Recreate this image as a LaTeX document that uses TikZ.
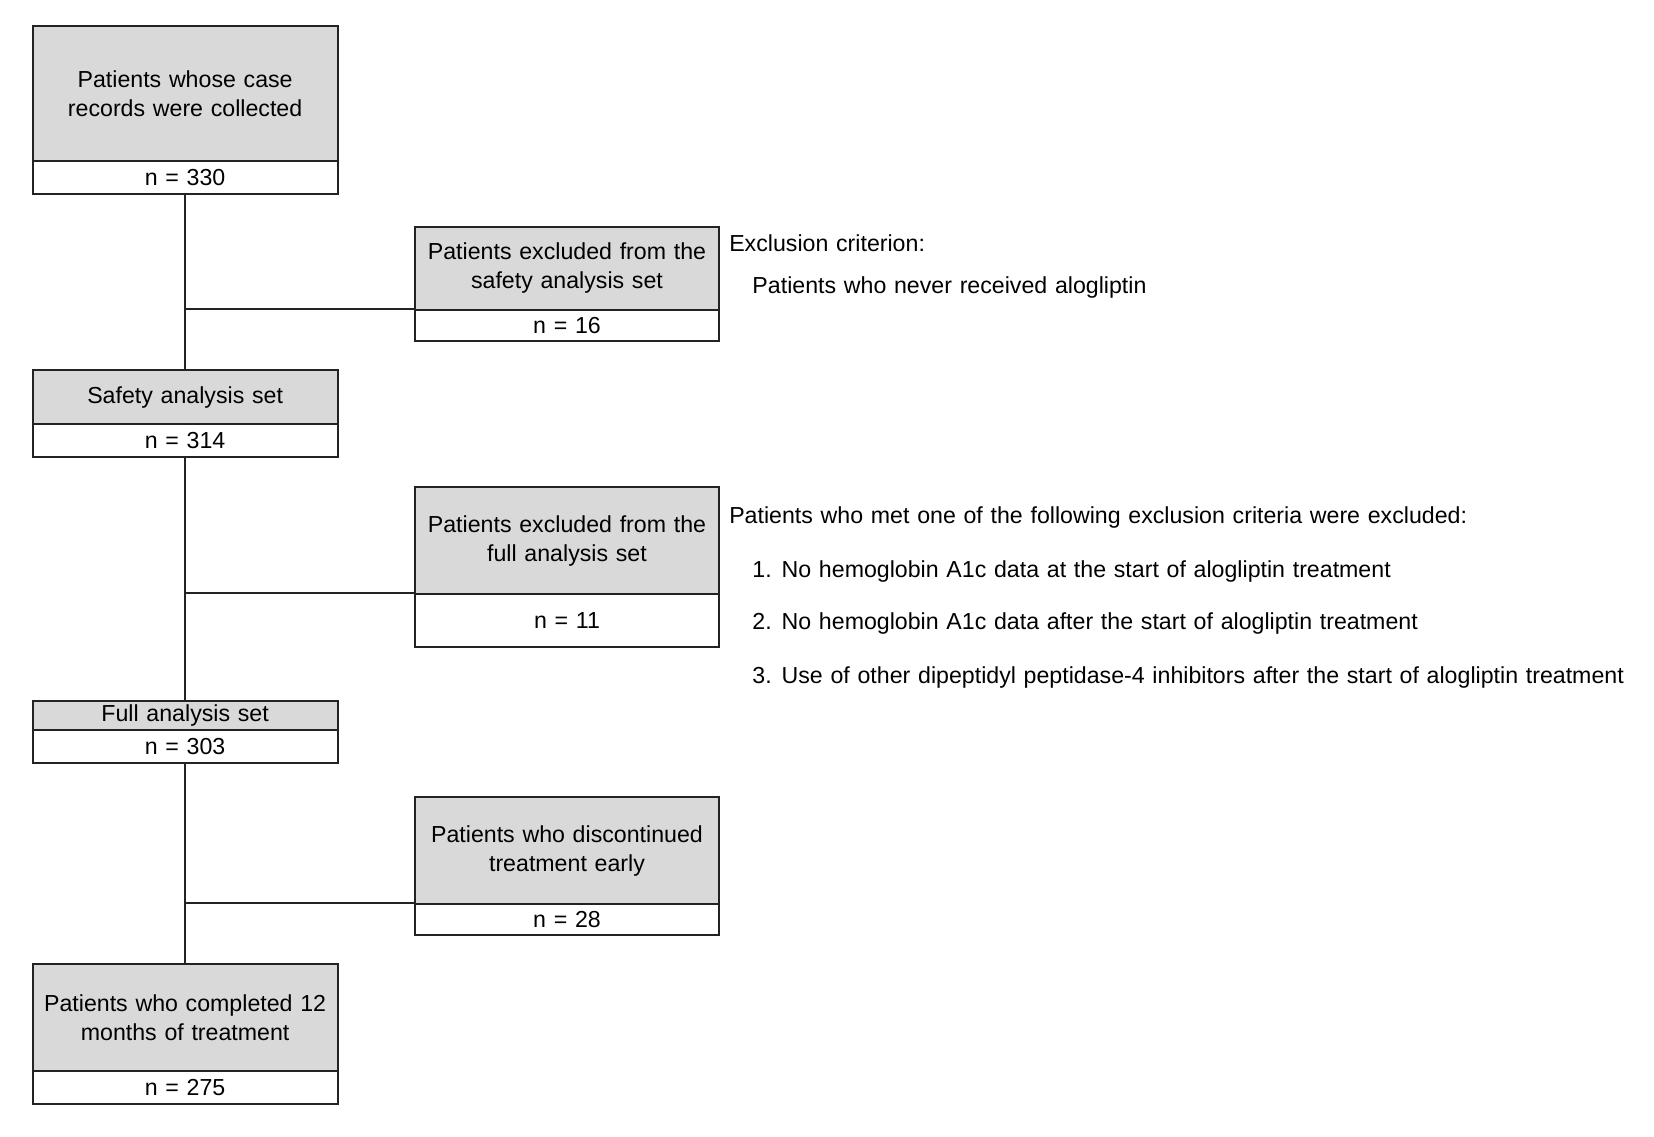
\documentclass[tikz,border=0pt]{standalone}
\usepackage{fontspec}
\setmainfont{Liberation Sans}[WordSpace=1.2]
\definecolor{boxgrey}{RGB}{217,217,217}
\definecolor{linegrey}{RGB}{35,35,35}
\tikzset{
	base/.style={draw=linegrey, line width=1.1pt, minimum width=5.78cm, inner sep=0pt, align=center, font=\fontsize{12.5}{15.6}\selectfont},
	titlebox/.style={base, fill=boxgrey},
	countbox/.style={base, fill=white},
	note/.style={anchor=base west, inner sep=0pt, font=\fontsize{12.5}{15.6}\selectfont},
	link/.style={draw=linegrey, line width=1.1pt}
}
\begin{document}
\begin{tikzpicture}[x=0.02cm,y=-0.02cm]
	\useasboundingbox (0,0) rectangle (1568,1077);
	%collected
	\node[titlebox, minimum height=2.56cm] (collected) at (175.5,89) {Patients whose case\\records were collected};
	\node[countbox, minimum height=0.62cm] (collectedn) at (175.5,168.5) {n = 330};
	%excluded from safety set
	\node[titlebox, minimum height=1.58cm] (exsafety) at (537.5,254.5) {Patients excluded from the\\safety analysis set};
	\node[countbox, minimum height=0.58cm] (exsafetyn) at (537.5,308.5) {n = 16};
	%safety set
	\node[titlebox, minimum height=1.02cm] (safety) at (175.5,376.5) {Safety analysis set};
	\node[countbox, minimum height=0.62cm] (safetyn) at (175.5,417.5) {n = 314};
	%excluded from full set
	\node[titlebox, minimum height=2.02cm] (exfull) at (537.5,512.5) {Patients excluded from the\\full analysis set};
	\node[countbox, minimum height=1.00cm] (exfulln) at (537.5,588) {n = 11};
	%full set
	\node[titlebox, minimum height=0.54cm] (full) at (175.5,678.5) {Full analysis set};
	\node[countbox, minimum height=0.62cm] (fulln) at (175.5,707.5) {n = 303};
	%discontinued
	\node[titlebox, minimum height=2.02cm] (stopped) at (537.5,806.5) {Patients who discontinued\\treatment early};
	\node[countbox, minimum height=0.58cm] (stoppedn) at (537.5,871.5) {n = 28};
	%completed
	\node[titlebox, minimum height=2.02cm] (completed) at (175.5,964.5) {Patients who completed 12\\months of treatment};
	\node[countbox, minimum height=0.64cm] (completedn) at (175.5,1031) {n = 275};
	%main line
	\draw[link] (collectedn) -- (safety);
	\draw[link] (safetyn) -- (full);
	\draw[link] (fulln) -- (completed);
	%branches
	\draw[link] (exsafetyn.north west) -- (exsafetyn.north west -| collectedn.south);
	\draw[link] (exfulln.north west) -- (exfulln.north west -| safetyn.south);
	\draw[link] (stoppedn.north west) -- (stoppedn.north west -| fulln.south);
	%criteria
	\node[note] (crit1) at (691,238) {Exclusion criterion:};
	\node[note] (crit1a) at (713,278) {Patients who never received alogliptin};
	\node[note] (crit2) at (691,496) {Patients who met one of the following exclusion criteria were excluded:};
	\node[note] (crit2a) at (713,547) {1. No hemoglobin A1c data at the start of alogliptin treatment};
	\node[note] (crit2b) at (713,597) {2. No hemoglobin A1c data after the start of alogliptin treatment};
	\node[note] (crit2c) at (713,648) {3. Use of other dipeptidyl peptidase-4 inhibitors after the start of alogliptin treatment};
\end{tikzpicture}
\end{document}
